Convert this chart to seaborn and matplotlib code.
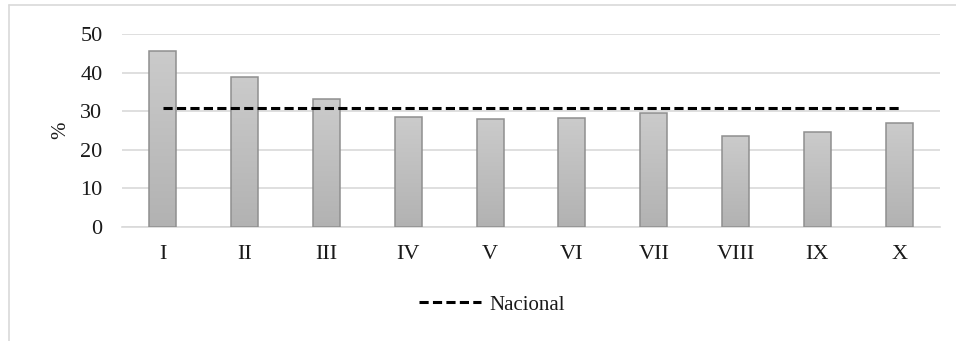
import numpy as np
import pandas as pd
import matplotlib
matplotlib.use("Agg")
import matplotlib.pyplot as plt
from matplotlib.lines import Line2D
import seaborn as sns

# Regions and their values (%)
regiones = ["I", "II", "III", "IV", "V", "VI", "VII", "VIII", "IX", "X"]
valores = [45.7, 38.9, 33.1, 28.4, 28.0, 28.3, 29.5, 23.5, 24.7, 27.0]
nacional = [30.7] * len(regiones)
y_ticks = [0, 10, 20, 30, 40, 50]

sns.set_theme(style="white")
plt.rcParams["font.family"] = ["Liberation Serif", "DejaVu Serif"]

W, H, DPI = 956, 341, 100
fig = plt.figure(figsize=(W / DPI, H / DPI), dpi=DPI)
ax = fig.add_axes([122 / W, 1 - 227 / H, (940 - 122) / W, (227 - 34) / H])

df = pd.DataFrame({"region": regiones, "valor": valores})
sns.barplot(data=df, x="region", y="valor", color="#c0c0c0", width=0.33,
            saturation=1, edgecolor="#8f8f8f", linewidth=1.1, ax=ax, zorder=3)

# vertical gradient fill inside each bar
grad = np.linspace(0, 1, 256).reshape(-1, 1)
cmap = matplotlib.colors.LinearSegmentedColormap.from_list(
    "gris", ["#b2b2b2", "#cbcbcb"])
for p in ax.patches:
    x0, y0 = p.get_x(), p.get_y()
    w, h = p.get_width(), p.get_height()
    im = ax.imshow(grad, extent=(x0, x0 + w, y0, y0 + h), origin="lower",
                   cmap=cmap, aspect="auto", zorder=3.5)
    im.set_clip_path(p)
    p.set_facecolor("none")
    p.set_zorder(4)

# national reference line
sns.lineplot(x=np.arange(len(regiones)), y=nacional, ax=ax, color="black",
             linewidth=2.2, zorder=5, legend=False)
ax.lines[-1].set_dashes((3.0, 1.4))

ax.set_xlim(-0.5, len(regiones) - 0.5)
ax.set_ylim(0, 50)
ax.set_yticks(y_ticks)
ax.yaxis.grid(True, color="#d9d9d9", linewidth=1.2, zorder=0)
ax.xaxis.grid(False)
for s in ["top", "right", "left"]:
    ax.spines[s].set_visible(False)
ax.spines["bottom"].set_color("#d9d9d9")
ax.spines["bottom"].set_linewidth(1.2)
ax.tick_params(axis="both", length=0, labelsize=16, colors="#1a1a1a")
ax.tick_params(axis="y", pad=14)
ax.tick_params(axis="x", pad=13)
ax.set_xlabel("")
ax.set_ylabel("%", fontsize=15, color="#1a1a1a", labelpad=7)
ax.set_xticks(range(len(regiones)))
ax.set_xticklabels(regiones)

# outer chart frame
fig.add_artist(Line2D([9 / W, 9 / W], [0, 1 - 5 / H], transform=fig.transFigure,
                      color="#d9d9d9", linewidth=1.2))
fig.add_artist(Line2D([9 / W, 1], [1 - 5 / H, 1 - 5 / H], transform=fig.transFigure,
                      color="#d9d9d9", linewidth=1.2))

handle = Line2D([], [], color="black", linewidth=2.2, dashes=(3.0, 1.4))
fig.legend([handle], ["Nacional"], loc="center", bbox_to_anchor=(492 / W, 1 - 305 / H),
           frameon=False, fontsize=15, handlelength=3.0, handletextpad=0.4,
           labelcolor="#1a1a1a")

fig.savefig("out.png", dpi=DPI)
